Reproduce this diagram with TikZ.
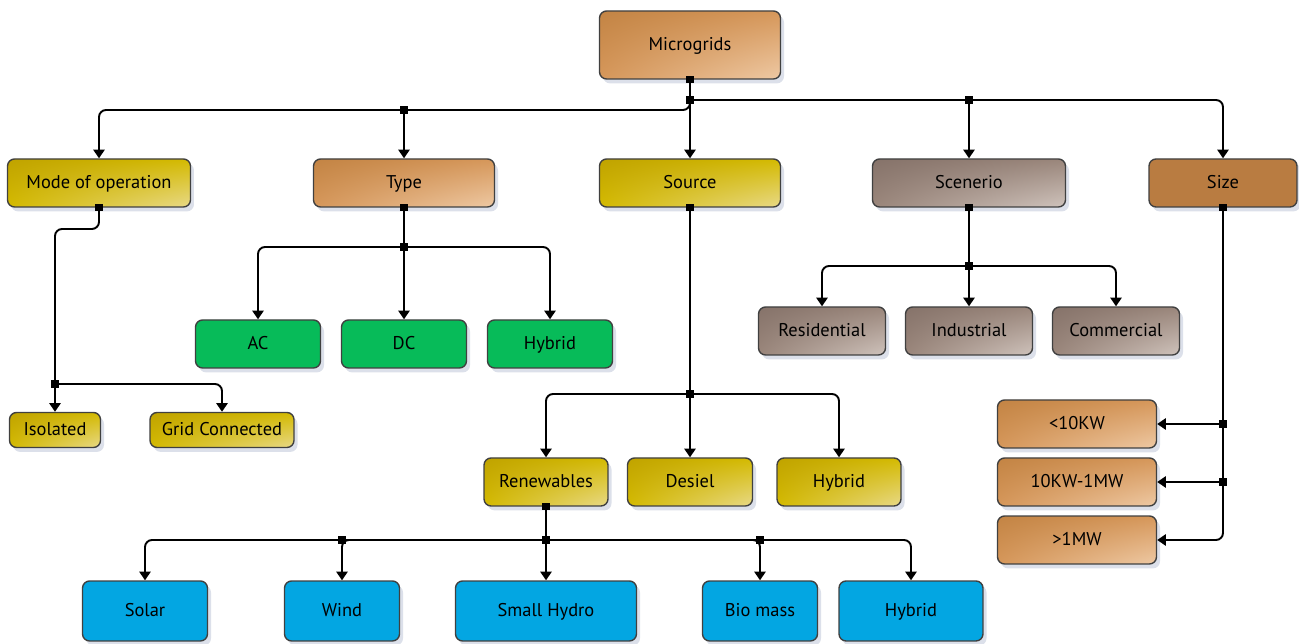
\documentclass[tikz,border=0pt]{standalone}
\usepackage{fontspec}
\setmainfont{PT Sans}
\usetikzlibrary{positioning,calc,shadows,shadings,arrows.meta}
\definecolor{orgA}{HTML}{C38444}
\definecolor{orgB}{HTML}{D6975A}
\definecolor{orgC}{HTML}{EEC9A4}
\definecolor{yelA}{HTML}{C0A300}
\definecolor{yelB}{HTML}{D4BA00}
\definecolor{yelC}{HTML}{E8D988}
\definecolor{gryA}{HTML}{86736A}
\definecolor{gryB}{HTML}{9A867B}
\definecolor{gryC}{HTML}{CFC3BC}
\definecolor{sizeC}{HTML}{B97C41}
\definecolor{grnC}{HTML}{07BB59}
\definecolor{bluC}{HTML}{03A6E2}
\definecolor{shd}{HTML}{8A9AB8}
\tikzset{
  box/.style={
    rectangle,
    rounded corners=4pt,
    draw=black!75,
    line width=0.8pt,
    align=center,
    inner sep=2pt,
    text height=1.6ex,
    text depth=0.45ex,
    font=\fontsize{10.5}{12}\selectfont,
    drop shadow={shadow xshift=2pt,shadow yshift=-2.5pt,opacity=0.3,fill=shd}
  },
  orgbox/.style={box,upper left=orgA,upper right=orgB,lower left=orgB,lower right=orgC},
  yelbox/.style={box,upper left=yelA,upper right=yelB,lower left=yelB,lower right=yelC},
  grybox/.style={box,upper left=gryA,upper right=gryB,lower left=gryB,lower right=gryC},
  grnbox/.style={box,fill=grnC},
  blubox/.style={box,fill=bluC},
  sizebox/.style={box,fill=sizeC},
  link/.style={draw,line width=1.1pt,rounded corners=4pt,-{Triangle[length=5pt,width=6.5pt]}},
  jdot/.style={rectangle,fill=black,inner sep=0pt,minimum size=4pt}
}

\begin{document}
\begin{tikzpicture}[x=0.02cm,y=-0.02cm]
    \useasboundingbox (0,0) rectangle (1299,644);
    % top level
    \node [orgbox,minimum width=3.62cm,minimum height=1.36cm] (mg) at (690,45) {Microgrids};
    \node [yelbox,minimum width=3.66cm,minimum height=0.96cm] (mode) at (99,183) {Mode of operation};
    \node [orgbox,minimum width=3.62cm,minimum height=0.96cm] (type) at (404,183) {Type};
    \node [yelbox,minimum width=3.62cm,minimum height=0.96cm] (src) at (690,183) {Source};
    \node [grybox,minimum width=3.86cm,minimum height=0.96cm] (scen) at (969,183) {Scenerio};
    \node [sizebox,minimum width=2.96cm,minimum height=0.96cm] (size) at (1223,183) {Size};
    % mode of operation
    \node [yelbox,minimum width=1.82cm,minimum height=0.7cm] (iso) at (55,430) {Isolated};
    \node [yelbox,minimum width=2.88cm,minimum height=0.7cm] (grid) at (222,430) {Grid Connected};
    % type
    \node [grnbox,minimum width=2.5cm,minimum height=0.96cm] (ac) at (258,344) {AC};
    \node [grnbox,minimum width=2.5cm,minimum height=0.96cm] (dc) at (404,344) {DC};
    \node [grnbox,minimum width=2.5cm,minimum height=0.96cm] (hyba) at (550,344) {Hybrid};
    % source
    \node [yelbox,minimum width=2.48cm,minimum height=0.96cm] (ren) at (546,482) {Renewables};
    \node [yelbox,minimum width=2.5cm,minimum height=0.96cm] (des) at (690,482) {Desiel};
    \node [yelbox,minimum width=2.48cm,minimum height=0.96cm] (hybb) at (839,482) {Hybrid};
    % renewables
    \node [blubox,minimum width=2.5cm,minimum height=1.2cm] (solar) at (145,611) {Solar};
    \node [blubox,minimum width=2.3cm,minimum height=1.2cm] (wind) at (342,611) {Wind};
    \node [blubox,minimum width=3.62cm,minimum height=1.2cm] (hydro) at (546,611) {Small Hydro};
    \node [blubox,minimum width=2.3cm,minimum height=1.2cm] (bio) at (760,611) {Bio mass};
    \node [blubox,minimum width=2.88cm,minimum height=1.2cm] (hybc) at (911,611) {Hybrid};
    % scenerio
    \node [grybox,minimum width=2.54cm,minimum height=0.96cm] (res) at (822,331) {Residential};
    \node [grybox,minimum width=2.54cm,minimum height=0.96cm] (ind) at (969,331) {Industrial};
    \node [grybox,minimum width=2.54cm,minimum height=0.96cm] (com) at (1116,331) {Commercial};
    % size
    \node [orgbox,minimum width=3.18cm,minimum height=0.96cm] (kwa) at (1077,424) {<10KW};
    \node [orgbox,minimum width=3.18cm,minimum height=0.96cm] (kwb) at (1077,482) {10KW-1MW};
    \node [orgbox,minimum width=3.18cm,minimum height=0.96cm] (kwc) at (1077,540) {>1MW};

    % junctions
    \coordinate (jtop) at (690,100);
    \coordinate (jleft) at (690,110);
    \coordinate (jtype) at (type.north |- jleft);
    \coordinate (jscen) at (scen.north |- jtop);
    \coordinate (jmode) at (iso.north |- 0,229);
    \coordinate (jiso) at (iso.north |- 0,384);
    \coordinate (jt) at (type.south |- 0,247);
    \coordinate (js) at (src.south |- 0,394);
    \coordinate (jr) at (ren.south |- 0,540);
    \coordinate (jsc) at (scen.south |- 0,266);

    % connectors
    \draw [link] (mg.south) -- (src.north);
    \draw [link] (jtop) -| (size.north);
    \draw [link] (jscen) -- (scen.north);
    \draw [link] (jtop) -- (jleft) -| (mode.north);
    \draw [link] (jtype) -- (type.north);
    \draw [link] (mode.south) |- (jmode) -- (iso.north);
    \draw [link] (jiso) -| (grid.north);
    \draw [link] (type.south) -- (dc.north);
    \foreach \c in {ac,hyba}
        \draw [link] (jt) -| (\c.north);
    \draw [link] (src.south) -- (des.north);
    \foreach \c in {ren,hybb}
        \draw [link] (js) -| (\c.north);
    \draw [link] (ren.south) -- (hydro.north);
    \foreach \c in {solar,wind,bio,hybc}
        \draw [link] (jr) -| (\c.north);
    \draw [link] (scen.south) -- (ind.north);
    \foreach \c in {res,com}
        \draw [link] (jsc) -| (\c.north);
    \draw [link] (size.south) |- (kwc.east);
    \foreach \c in {kwa,kwb}
        \draw [link] (size.south |- \c.east) -- (\c.east);

    % junction dots
    \foreach \p in {mg.south,jtop,jtype,jscen,mode.south,jiso,type.south,jt,src.south,js,ren.south,jr,scen.south,jsc,size.south}
        \node [jdot] at (\p) {};
    \node [jdot] at (wind.north |- jr) {};
    \node [jdot] at (bio.north |- jr) {};
    \node [jdot] at (size.south |- kwa.east) {};
    \node [jdot] at (size.south |- kwb.east) {};
\end{tikzpicture}
\end{document}
